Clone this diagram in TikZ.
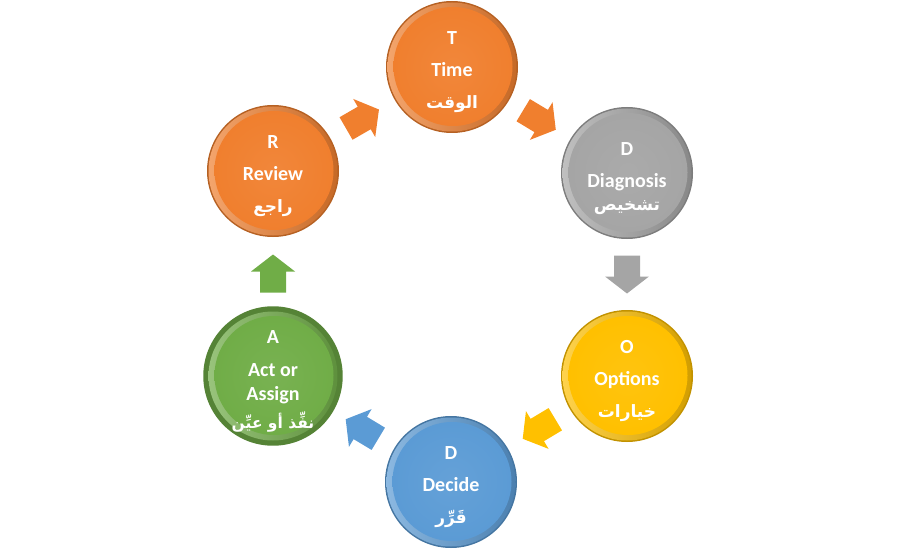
\documentclass[tikz,border=0pt]{standalone}
\usepackage{fontspec}
\setmainfont{Carlito}
\newfontfamily\arabicfont[Script=Arabic]{DejaVu Sans}
\TeXXeTstate=1
\usetikzlibrary{calc}
\definecolor{corange}{HTML}{F07F2E}
\definecolor{cgray}{HTML}{A5A5A5}
\definecolor{cyellow}{HTML}{FFC000}
\definecolor{cblue}{HTML}{5B9BD5}
\definecolor{cgreen}{HTML}{70AD47}
\newcommand\ar[1]{{\arabicfont\bfseries\fontsize{17}{28}\selectfont\beginR #1\endR}}
\newcommand\arsmall[1]{{\arabicfont\bfseries\fontsize{15.5}{26}\selectfont\beginR #1\endR}}
\newcommand\tp{\rule{0pt}{24pt}}
\tikzset{
  bead/.style={circle, minimum size=132pt, inner sep=0pt, fill=#1!76!black,
    text=white, align=center, font=\fontsize{20}{32}\selectfont\bfseries,
    path picture={
      \shade[left color=#1!70!white, right color=#1!82!black]
        (path picture bounding box.center) circle (64.5pt);
      \shade[inner color=#1!94!white, outer color=#1]
        ([shift={(1pt,0.5pt)}]path picture bounding box.center) circle (59.5pt);
    }},
  blockarrow/.pic={
    \path[pic actions] (-19pt,-13pt) -- (2pt,-13pt) -- (2pt,-22pt) -- (19pt,0pt)
      -- (2pt,22pt) -- (2pt,13pt) -- (-19pt,13pt) -- cycle;
  }
}
\begin{document}
\begin{tikzpicture}[x=1pt,y=1pt]
\useasboundingbox (0,0) rectangle (900,550);
\node[bead=corange] (T)  at (452,483) {\tp T\\Time\\\ar{الوقت}};
\node[bead=cgray]   (Dg) at (627,377) {\tp D\\Diagnosis\\[-9pt]\ar{تشخيص}};
\node[bead=cyellow] (O)  at (627,174) {\tp O\\Options\\\ar{خيارات}};
\node[bead=cblue]   (Dc) at (451,68)  {\tp D\\Decide\\\ar{قَرِّر}};
\node[bead=cgreen]  (A)  at (273,174) {\tp A\\[1pt]Act or\\[-8pt]Assign\\[-4pt]\arsmall{نفِّذ أو عيِّن}};
\node[bead=corange] (R)  at (273,379) {\tp R\\Review\\\ar{راجع}};
\pic[fill=corange, rotate=-31]  at ($(T)!0.5!(Dg)$) {blockarrow};
\pic[fill=cgray,   rotate=-90]  at ($(Dg)!0.5!(O)$) {blockarrow};
\pic[fill=cyellow, rotate=211]  at ($(O)!0.5!(Dc)$) {blockarrow};
\pic[fill=cblue,   rotate=149]  at ($(Dc)!0.5!(A)$) {blockarrow};
\pic[fill=cgreen,  rotate=90]   at ($(A)!0.5!(R)$)  {blockarrow};
\pic[fill=corange, rotate=30]   at ($(R)!0.5!(T)$)  {blockarrow};
\end{tikzpicture}
\end{document}
